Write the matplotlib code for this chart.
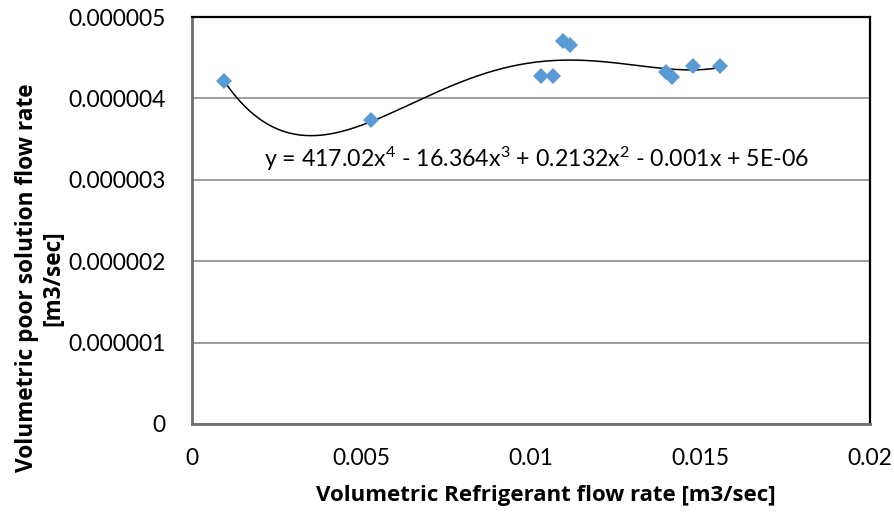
import numpy as np
import matplotlib
matplotlib.use("Agg")
import matplotlib.pyplot as plt

plt.rcParams['font.family'] = ['Lato', 'DejaVu Sans']
plt.rcParams['mathtext.fontset'] = 'custom'
plt.rcParams['mathtext.rm'] = 'Lato'
plt.rcParams['mathtext.it'] = 'Lato'
plt.rcParams['mathtext.bf'] = 'Lato:bold'

refrigerant_flow = [0.00095, 0.00528, 0.01029, 0.01064, 0.01095, 0.01115,
                    0.01397, 0.01415, 0.01477, 0.01558]
poor_solution_flow = [4.21e-6, 3.73e-6, 4.28e-6, 4.28e-6, 4.70e-6, 4.65e-6,
                      4.33e-6, 4.26e-6, 4.40e-6, 4.40e-6]
x_ticks = [0, 0.005, 0.01, 0.015, 0.02]
x_tick_labels = ['0', '0.005', '0.01', '0.015', '0.02']
y_ticks = [0, 1e-6, 2e-6, 3e-6, 4e-6, 5e-6]
y_tick_labels = ['0', '0.000001', '0.000002', '0.000003', '0.000004', '0.000005']
equation = r"y = 417.02x$^{\mathrm{4}}$ - 16.364x$^{\mathrm{3}}$ + 0.2132x$^{\mathrm{2}}$ - 0.001x + 5E-06"

fig = plt.figure(figsize=(8.95, 5.16), dpi=100)
ax = fig.add_axes([192/895, 1-424/516, (870-192)/895, (424-17)/516])

xs = np.array(refrigerant_flow)
ys = np.array(poor_solution_flow)
coef = np.polyfit(xs, ys, 4)
xf = np.linspace(xs.min(), xs.max(), 300)
ax.plot(xf, np.polyval(coef, xf), color='black', lw=1.1, zorder=2)
ax.plot(xs, ys, linestyle='none', marker='D', markersize=8.5,
        color='#5B9BD5', markeredgewidth=0, zorder=3)

ax.set_xlim(0, 0.02)
ax.set_ylim(0, 5e-6)
ax.set_xticks(x_ticks)
ax.set_xticklabels(x_tick_labels)
ax.set_yticks(y_ticks)
ax.set_yticklabels(y_tick_labels)
ax.tick_params(axis='both', length=0, labelsize=16.5, colors='black')
ax.tick_params(axis='y', pad=19)
ax.tick_params(axis='x', pad=17)
ax.yaxis.grid(True, color='#8c8c8c', lw=1.2)
ax.set_axisbelow(True)
for s in ['top', 'right']:
    ax.spines[s].set_color('black')
    ax.spines[s].set_linewidth(1.6)
for s in ['left', 'bottom']:
    ax.spines[s].set_color('#6e6e6e')
    ax.spines[s].set_linewidth(2.0)

eq = ax.text(264, 516-167, equation, transform=None, fontsize=14, ha='left',
             va='baseline', color='black')

xl = fig.text(546/895, 1-495/516, "Volumetric Refrigerant flow rate [m3/sec]",
              ha='center', va='center', fontsize=16, fontweight='bold',
              family=['Open Sans', 'DejaVu Sans'])
yl = fig.text(40/895, 1-278/516, "Volumetric poor solution flow rate\n[m3/sec]",
              ha='center', va='center', rotation=90, fontsize=16,
              fontweight='bold', multialignment='center', linespacing=1.15,
              family=['Open Sans', 'DejaVu Sans'])

fig.canvas.draw()
r = fig.canvas.get_renderer()
def fit(t, target, vertical=False):
    bb = t.get_window_extent(r)
    size = bb.height if vertical else bb.width
    t.set_fontsize(t.get_fontsize() * target / size)

fit(eq, 546)
fit(xl, 460)
fit(yl, 388, vertical=True)

fig.savefig("out.png", dpi=100)
